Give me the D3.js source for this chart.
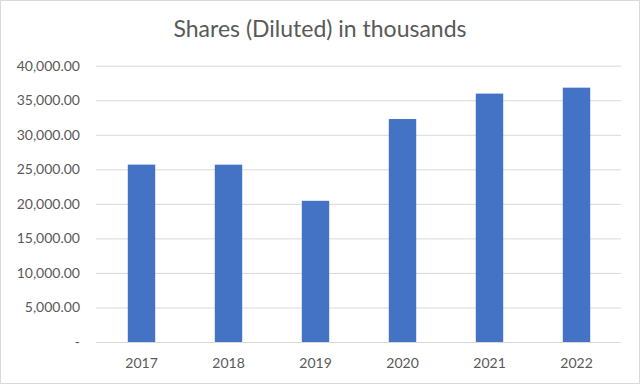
<html>
<head>
<script src="https://d3js.org/d3.v7.min.js"></script>
<style>
  body { margin: 0; background: #fff; }
  .gridlines line { stroke: #d9d9d9; }
  .gridlines .domain { stroke: none; }
  text { font-family: Lato, "Open Sans", sans-serif; fill: #595959; }
</style>
</head>
<body>
<svg id="chart" width="640" height="384"></svg>
<script>
const years = ['2017', '2018', '2019', '2020', '2021', '2022'];
const shares = [25680, 25670, 20440, 32280, 35960, 36820];
const yTicks = [0, 5000, 10000, 15000, 20000, 25000, 30000, 35000, 40000];
const title = 'Shares (Diluted) in thousands';

const svg = d3.select('svg#chart');
const width = +svg.attr('width');
const height = +svg.attr('height');
const margin = { top: 65.7, right: 20, bottom: 42, left: 98 };
const chartWidth = width - margin.left - margin.right;
const chartHeight = height - margin.top - margin.bottom;

// chart border
svg.append('rect')
  .attr('x', 0.5).attr('y', 0.5)
  .attr('width', width - 1).attr('height', height - 1)
  .attr('fill', '#fff')
  .attr('stroke', '#d9d9d9');

svg.append('text')
  .attr('x', width / 2)
  .attr('y', 37)
  .attr('text-anchor', 'middle')
  .style('font-size', '23px')
  .text(title);

const xScale = d3.scaleBand().domain(years).range([0, chartWidth])
  .paddingInner(0.685).paddingOuter(0.3425);
const yScale = d3.scaleLinear().domain([0, 40000]).range([chartHeight, 0]);

const fmt = d => d === 0 ? '-' : d3.format(',.2f')(d);

// horizontal gridlines
const yGrid = d3.axisLeft(yScale).tickValues(yTicks).tickSize(-chartWidth - 3).tickFormat('');
svg.append('g')
  .attr('class', 'gridlines')
  .attr('transform', `translate(${margin.left - 2}, ${margin.top})`)
  .call(yGrid);

// y labels
const yAxis = d3.axisLeft(yScale).tickValues(yTicks).tickSize(0).tickPadding(0).tickFormat(fmt);
const yg = svg.append('g')
  .attr('transform', `translate(80, ${margin.top})`)
  .call(yAxis);
yg.select('.domain').remove();
yg.selectAll('text').style('font-size', '14px').attr('fill', '#595959');

const chart = svg.append('g')
  .attr('transform', `translate(${margin.left}, ${margin.top})`);

chart.selectAll('rect.bar')
  .data(years)
  .join('rect')
  .attr('class', 'bar')
  .attr('x', d => xScale(d))
  .attr('width', xScale.bandwidth())
  .attr('y', (d, i) => yScale(shares[i]))
  .attr('height', (d, i) => chartHeight - yScale(shares[i]))
  .attr('fill', '#4472c4');

// x labels
const xAxis = d3.axisBottom(xScale).tickSize(0).tickPadding(16);
const xg = svg.append('g')
  .attr('transform', `translate(${margin.left}, ${margin.top + chartHeight})`)
  .call(xAxis);
xg.select('.domain').remove();
xg.selectAll('text').style('font-size', '14px').attr('fill', '#595959');
</script>
</body>
</html>
